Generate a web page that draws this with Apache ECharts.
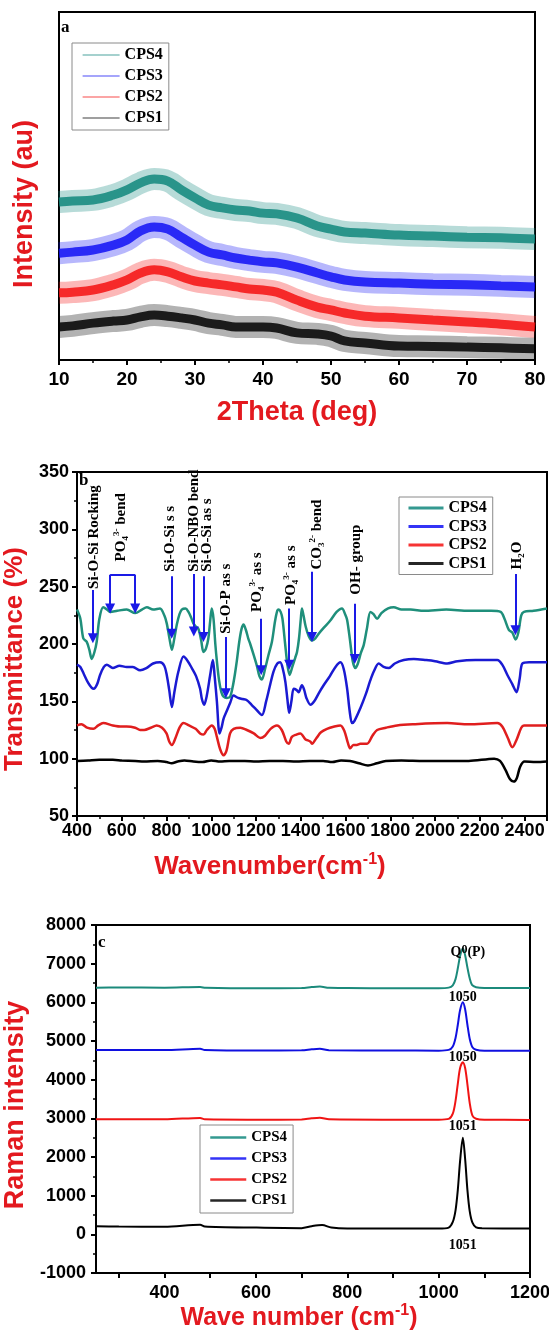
<!DOCTYPE html>
<html>
<head>
<meta charset="utf-8">
<script src="https://cdn.jsdelivr.net/npm/echarts@6/dist/echarts.min.js"></script>
<style>
body { margin: 0; background: #fff; }
#chart { width: 549px; height: 1336px; }
</style>
</head>
<body>
<div id="chart"></div>
<script>
// ---------- panel a : XRD (arbitrary units 0-100) ----------
var xrdTheta = [10,12,15,18,20,22,24,26,28,30,32,34,36,38,40,42,45,48,50,52,55,60,65,70,75,80];
var xrdCPS4 = [45.4,45.7,46.0,47.4,48.9,50.9,52.0,51.4,48.9,46.6,44.5,43.7,43.1,42.8,42.2,42.0,40.8,38.5,37.6,36.8,36.5,35.9,35.6,35.3,35.1,34.8];
var xrdCPS3 = [30.7,31.0,31.6,33.0,34.5,37.1,38.2,37.6,35.3,33.0,31.0,30.2,29.3,28.7,28.2,27.9,26.7,25.0,23.9,23.0,22.4,22.1,21.8,21.6,21.3,21.0];
var xrdCPS2 = [19.3,19.5,20.1,21.6,23.0,25.0,25.9,25.3,23.9,22.7,22.1,21.6,21.0,20.4,20.1,19.5,17.2,15.2,14.4,13.5,12.6,12.1,11.5,10.9,10.3,9.5];
var xrdCPS1 = [9.5,9.8,10.6,11.2,11.5,12.4,12.9,12.6,12.1,11.5,10.6,10.1,9.5,9.5,9.5,9.2,7.8,7.5,6.9,5.5,4.9,4.0,3.9,3.7,3.5,3.2];

// ---------- panel b : FTIR [wavenumber, transmittance] ----------
var ftirCPS4 = [[400,230],[415,222],[428,205],[443,202],[455,195],[466,187],[478,193],[488,202],[500,222],[517,232],[535,230],[548,228],[580,229],[622,230],[660,227],[690,230],[712,232],[740,230],[771,231],[790,225],[801,218],[813,205],[824,195],[835,205],[846,217],[858,226],[868,230],[885,231],[898,228],[910,223],[920,218],[932,215],[943,213],[955,203],[965,193],[976,196],[987,205],[995,220],[1002,231],[1010,222],[1018,200],[1025,185],[1035,168],[1045,158],[1055,154],[1070,153],[1084,154],[1095,162],[1105,173],[1114,185],[1125,202],[1135,213],[1144,217],[1155,212],[1165,205],[1174,200],[1190,190],[1205,180],[1215,172],[1226,169],[1240,178],[1255,190],[1271,202],[1285,220],[1295,229],[1301,230],[1310,228],[1318,222],[1330,200],[1340,182],[1350,173],[1362,180],[1375,188],[1383,193],[1392,205],[1400,222],[1405,231],[1412,225],[1422,215],[1435,207],[1450,203],[1465,205],[1480,209],[1502,214],[1530,220],[1560,228],[1584,231],[1598,226],[1607,221],[1620,203],[1632,185],[1644,179],[1655,183],[1668,192],[1681,199],[1695,213],[1711,228],[1725,226],[1741,222],[1760,227],[1790,231],[1815,232],[1850,230],[1890,230],[1950,229],[2050,230],[2150,229],[2250,229],[2293,228],[2310,222],[2330,212],[2345,210],[2360,204],[2372,210],[2385,225],[2397,228],[2440,229],[2500,231]];
var ftirCPS3 = [[400,182],[415,180],[430,174],[450,166],[465,162],[475,161],[490,165],[503,173],[520,180],[533,182],[560,179],[590,181],[622,180],[650,180],[682,177],[710,179],[740,183],[771,184],[790,181],[801,173],[812,160],[824,145],[835,158],[853,176],[876,189],[895,185],[913,179],[932,172],[950,161],[958,152],[968,147],[980,155],[995,173],[1007,186],[1015,172],[1025,150],[1037,122],[1047,128],[1055,135],[1070,142],[1085,149],[1099,155],[1120,153],[1140,152],[1159,151],[1180,147],[1200,143],[1226,138],[1245,150],[1260,162],[1278,176],[1295,183],[1308,184],[1320,178],[1331,167],[1340,152],[1348,140],[1358,150],[1368,161],[1380,160],[1390,158],[1405,164],[1415,160],[1425,153],[1443,147],[1460,150],[1480,157],[1502,164],[1530,172],[1555,180],[1577,184],[1592,178],[1607,161],[1618,142],[1629,131],[1640,133],[1666,144],[1690,156],[1710,168],[1726,176],[1748,183],[1770,180],[1793,179],[1820,183],[1860,186],[1905,187],[1960,186],[2000,185],[2054,183],[2100,185],[2180,186],[2278,186],[2300,182],[2323,173],[2345,165],[2364,158],[2378,170],[2390,183],[2420,184],[2500,184]];
var ftirCPS2 = [[400,129],[420,130],[445,127],[473,126],[495,129],[517,131],[560,129],[600,128],[622,128],[660,127],[682,125],[700,125],[730,127],[756,129],[780,127],[800,122],[812,115],[824,112],[840,118],[858,127],[876,131],[900,129],[930,126],[950,122],[965,121],[980,125],[1002,129],[1015,126],[1025,119],[1040,108],[1055,103],[1068,107],[1084,122],[1100,126],[1130,127],[1159,125],[1190,122],[1219,118],[1240,120],[1265,126],[1293,129],[1315,125],[1335,115],[1346,113],[1360,119],[1380,121],[1398,122],[1420,117],[1442,115],[1450,113],[1470,118],[1490,123],[1517,126],[1550,128],[1577,129],[1595,124],[1610,114],[1621,109],[1635,112],[1650,112],[1666,113],[1696,113],[1720,120],[1741,125],[1780,127],[1830,129],[1900,130],[2054,131],[2150,130],[2278,131],[2300,128],[2325,118],[2345,110],[2365,117],[2385,127],[2397,129],[2450,129],[2500,129]];
var ftirCPS1 = [[400,98],[450,98.5],[500,99],[560,99],[600,98.5],[660,98],[700,97.5],[760,98],[800,97],[823,96],[850,97.5],[880,98.5],[920,97.5],[960,97],[1000,98.5],[1040,97.5],[1080,98],[1150,98],[1200,97.5],[1260,98],[1320,98],[1380,97.5],[1440,98],[1500,98],[1540,97],[1580,98.5],[1620,98],[1660,96],[1700,94],[1740,96],[1780,98],[1850,98.5],[1950,98],[2050,98],[2150,98],[2264,100],[2290,98],[2315,90],[2335,82],[2351,80],[2365,83],[2380,93],[2400,97.5],[2450,97],[2500,97.5]];

// arrows: [wavenumber, arrow top, arrow tip]
var ftirArrows = [[471,247,205],[823,259,209],[922,261,211],[965,259,206],[1065,206,157],[1223,222,177],[1348,231,182],[1450,263,206],[1641,235,187],[2359,261,212]];
// PO4 bend bracket: [left wn, right wn, top, tip]
var ftirBracket = [548, 660, 260.5, 231];
// band labels: [wavenumber, value where text starts, text]
var ftirNotes = [
  [478, 248, 'Si-O-Si Rocking'],
  [597, 272, 'PO{b|4}{p|3-} bend'],
  [816, 263, 'Si-O-Si s s'],
  [923, 263, 'Si-O-NBO bend'],
  [980, 263, 'Si-O-Si as s'],
  [1067, 209, 'Si-O-P as s'],
  [1205, 228, 'PO{b|4}{p|3-} as s'],
  [1356, 234, 'PO{b|4}{p|3-} as s'],
  [1474, 265, 'CO{b|3}{p|2-} bend'],
  [1646, 243, 'OH- group'],
  [2366, 265, 'H{b|2}O']
];

// ---------- panel c : Raman [wavenumber, intensity] ----------
var ramanCPS4 = [[250,6380],[300,6385],[400,6380],[478,6395],[490,6378],[600,6365],[700,6370],[722,6395],[740,6410],[760,6375],[800,6370],[900,6365],[1000,6365],[1022,6380],[1031,6440],[1037,6600],[1042,6880],[1047,7200],[1053,7400],[1058,7220],[1063,6900],[1068,6620],[1073,6450],[1082,6390],[1100,6370],[1200,6370]];
var ramanCPS3 = [[250,4770],[400,4765],[478,4800],[488,4770],[600,4755],[700,4760],[722,4785],[740,4800],[760,4760],[900,4755],[1000,4750],[1022,4770],[1031,4860],[1037,5080],[1042,5420],[1047,5800],[1053,6000],[1058,5820],[1063,5420],[1068,5060],[1074,4840],[1082,4775],[1100,4750],[1200,4750]];
var ramanCPS2 = [[250,2975],[400,2975],[478,3010],[488,2975],[600,2965],[700,2970],[722,3000],[740,3015],[760,2975],[900,2965],[1000,2965],[1022,2985],[1031,3120],[1037,3450],[1042,3900],[1047,4300],[1053,4450],[1058,4300],[1063,3880],[1068,3400],[1074,3070],[1082,2990],[1100,2965],[1200,2960]];
var ramanCPS1 = [[250,210],[300,200],[400,195],[478,250],[488,205],[600,175],[700,160],[722,210],[745,240],[765,175],[800,150],[900,150],[1000,150],[1022,175],[1031,320],[1037,620],[1042,1150],[1047,1900],[1053,2500],[1058,1950],[1063,1150],[1068,600],[1074,300],[1082,180],[1095,155],[1200,150]];
// peak labels: [wavenumber, value, text]
var ramanNotes = [
  [1064, 7280, 'Q{p|0}(P)'],
  [1053, 6130, '1050'],
  [1053, 4580, '1050'],
  [1053, 2780, '1051'],
  [1053, -280, '1051']
];

var names = ['CPS4', 'CPS3', 'CPS2', 'CPS1'];
var xrdColors = ['#10877d', '#1010f5', '#f51010', '#000000'];
var ftirColors = ['#1f8f7b', '#1a1ad2', '#e01e1e', '#000000'];
var ramanColors = ['#1b8a7b', '#1010e0', '#f01414', '#000000'];

var SANS = '"Liberation Sans", Arial, sans-serif';
var SERIF = '"Liberation Serif", "Times New Roman", serif';
var titleRed = '#e3191f';

function toPairs(xs, ys) {
  return xs.map(function (x, i) { return [x, ys[i]]; });
}

function plain(v) { return String(v); }

function axisCommon(extra) {
  var base = {
    type: 'value',
    axisLine: { show: true, onZero: false, lineStyle: { color: '#000', width: 2 } },
    axisTick: { show: true, length: 5, lineStyle: { color: '#000', width: 2 } },
    minorTick: { show: true, splitNumber: 2, length: 3, lineStyle: { color: '#000', width: 1.5 } },
    splitLine: { show: false },
    minorSplitLine: { show: false },
    axisLabel: { color: '#000', fontFamily: SANS, fontWeight: 'bold', fontSize: 18, formatter: plain },
    nameLocation: 'middle',
    nameTextStyle: { color: titleRed, fontFamily: SANS, fontWeight: 'bold', fontSize: 27 }
  };
  for (var k in extra) {
    if (typeof extra[k] === 'object' && base[k] && !Array.isArray(extra[k])) {
      base[k] = Object.assign({}, base[k], extra[k]);
    } else {
      base[k] = extra[k];
    }
  }
  return base;
}

var supRich = { sup: { color: titleRed, fontFamily: SANS, fontWeight: 'bold', fontSize: 16, verticalAlign: 'top', lineHeight: 30 } };

var series = [];
var xrdSets = [xrdCPS4, xrdCPS3, xrdCPS2, xrdCPS1];
xrdSets.forEach(function (ys, i) {
  var d = toPairs(xrdTheta, ys);
  series.push({
    name: names[i] + ' noise', type: 'line', xAxisIndex: 0, yAxisIndex: 0, data: d,
    smooth: 0.4, symbol: 'none', silent: true,
    lineStyle: { color: xrdColors[i], width: 22, opacity: 0.3 }, itemStyle: { color: xrdColors[i] }
  });
  series.push({
    name: names[i], type: 'line', xAxisIndex: 0, yAxisIndex: 0, data: d,
    smooth: 0.4, symbol: 'none', silent: true,
    lineStyle: { color: xrdColors[i], width: 9, opacity: 0.85 }, itemStyle: { color: xrdColors[i] }
  });
});

var ftirSets = [ftirCPS1, ftirCPS2, ftirCPS3, ftirCPS4];
ftirSets.forEach(function (d, j) {
  var i = 3 - j;
  series.push({
    name: names[i], type: 'line', xAxisIndex: 1, yAxisIndex: 1, data: d,
    smooth: 0.3, symbol: 'none', silent: true,
    lineStyle: { color: ftirColors[i], width: 2.5 }, itemStyle: { color: ftirColors[i] }
  });
});

// blue arrows on top of FTIR curves
var arrowLines = ftirArrows.map(function (a) {
  return [{ coord: [a[0], a[1]] }, { coord: [a[0], a[2]] }];
});
arrowLines.push([{ coord: [ftirBracket[0], ftirBracket[2]] }, { coord: [ftirBracket[0], ftirBracket[3]] }]);
arrowLines.push([{ coord: [ftirBracket[1], ftirBracket[2]] }, { coord: [ftirBracket[1], ftirBracket[3]] }]);
arrowLines.push([{ coord: [ftirBracket[0], ftirBracket[2]], symbol: 'none' }, { coord: [ftirBracket[1], ftirBracket[2]], symbol: 'none' }]);
series.push({
  name: 'arrows', type: 'line', xAxisIndex: 1, yAxisIndex: 1, data: [], z: 5,
  markLine: {
    silent: true, symbol: ['none', 'triangle'], symbolSize: 10,
    label: { show: false },
    lineStyle: { color: '#1a1ae6', width: 2, type: 'solid' },
    emphasis: { disabled: true },
    data: arrowLines
  }
});

var ramanSets = [ramanCPS1, ramanCPS2, ramanCPS3, ramanCPS4];
ramanSets.forEach(function (d, j) {
  var i = 3 - j;
  series.push({
    name: names[i], type: 'line', xAxisIndex: 2, yAxisIndex: 2, data: d,
    smooth: 0.3, symbol: 'none', silent: true,
    lineStyle: { color: ramanColors[i], width: 2 }, itemStyle: { color: ramanColors[i] }
  });
});

function legendAt(left, top, opts) {
  return Object.assign({
    data: names, orient: 'vertical', left: left, top: top,
    selectedMode: false, borderColor: '#8a8a8a', borderWidth: 1,
    itemStyle: { opacity: 0 },
    textStyle: { fontFamily: SERIF, fontWeight: 'bold', color: '#000' }
  }, opts);
}

var gridBase = { show: true, borderColor: '#000', borderWidth: 2, outerBoundsMode: 'none', containLabel: false };

var option = {
  animation: false,
  backgroundColor: '#fff',
  textStyle: { fontFamily: SANS },
  grid: [
    Object.assign({ left: 59, top: 12, width: 476, height: 348 }, gridBase),
    Object.assign({ left: 77, top: 472, width: 470, height: 344 }, gridBase),
    Object.assign({ left: 96, top: 925, width: 434, height: 348 }, gridBase)
  ],
  xAxis: [
    axisCommon({ gridIndex: 0, min: 10, max: 80, interval: 10,
      axisLabel: { fontSize: 19, margin: 10 },
      name: '2Theta (deg)', nameGap: 39 }),
    axisCommon({ gridIndex: 1, min: 400, max: 2500, interval: 200,
      axisLabel: { margin: 6, showMaxLabel: false },
      name: 'Wavenumber(cm{sup|-1})', nameGap: 36,
      nameTextStyle: { fontSize: 26, lineHeight: 30, padding: [0, 84, 0, 0], rich: supRich } }),
    axisCommon({ gridIndex: 2, min: 250, max: 1200,
      axisTick: { customValues: [300,400,500,600,700,800,900,1000,1100,1200] },
      minorTick: { show: false },
      axisLabel: { margin: 11, customValues: [400,600,800,1000,1200] },
      name: 'Wave number (cm{sup|-1})', nameGap: 29,
      nameTextStyle: { fontSize: 25, lineHeight: 30, padding: [0, 28, 0, 0], rich: supRich } })
  ],
  yAxis: [
    axisCommon({ gridIndex: 0, min: 0, max: 100,
      axisTick: { show: false }, minorTick: { show: false }, axisLabel: { show: false },
      name: 'Intensity (au)', nameRotate: 90, nameGap: 21,
      nameTextStyle: { padding: [0, 36, 0, 0] } }),
    axisCommon({ gridIndex: 1, min: 50, max: 350, interval: 50,
      axisLabel: { margin: 8 },
      name: 'Transmittance (%)', nameRotate: 90, nameGap: 39,
      nameTextStyle: { fontSize: 26, padding: [0, 30, 0, 0] } }),
    axisCommon({ gridIndex: 2, min: -1000, max: 8000, interval: 1000,
      axisLabel: { margin: 10 },
      name: 'Raman intensity', nameRotate: 90, nameGap: 56,
      nameTextStyle: { padding: [0, 12, 0, 0] } })
  ],
  legend: [
    legendAt(72, 43, { itemWidth: 37, itemHeight: 12, itemGap: 5, padding: [4, 6, 4, 10],
      lineStyle: { width: 1.2, opacity: 0.75 }, textStyle: { fontFamily: SERIF, fontWeight: 'bold', fontSize: 16, color: '#000' } }),
    legendAt(399, 497, { itemWidth: 35, itemHeight: 12, itemGap: 2.5, padding: [3, 6, 3, 8],
      lineStyle: { width: 3 }, textStyle: { fontFamily: SERIF, fontWeight: 'bold', fontSize: 16, color: '#000' } }),
    legendAt(200, 1125, { itemWidth: 36, itemHeight: 12, itemGap: 6, padding: [5, 6, 5, 9],
      lineStyle: { width: 2.5 }, textStyle: { fontFamily: SERIF, fontWeight: 'bold', fontSize: 15, color: '#000' } })
  ],
  series: series
};

var chart = echarts.init(document.getElementById('chart'));
chart.setOption(option);

// annotation texts placed at data coordinates
var noteRich = {
  b: { font: 'bold 9px "Liberation Serif"', verticalAlign: 'bottom', textVerticalAlign: 'bottom', lineHeight: 18 },
  p: { font: 'bold 9px "Liberation Serif"', verticalAlign: 'top', textVerticalAlign: 'top', lineHeight: 18 }
};
var graphics = [
  { type: 'text', left: 61, top: 19, z: 10, style: { text: 'a', font: 'bold 17px "Liberation Serif"', fill: '#000' } },
  { type: 'text', left: 79, top: 472, z: 10, style: { text: 'b', font: 'bold 17px "Liberation Serif"', fill: '#000' } },
  { type: 'text', left: 98, top: 934, z: 10, style: { text: 'c', font: 'bold 17px "Liberation Serif"', fill: '#000' } }
];
ftirNotes.forEach(function (n) {
  var p = chart.convertToPixel({ gridIndex: 1 }, [n[0], n[1]]);
  graphics.push({
    type: 'text', x: p[0], y: p[1], rotation: Math.PI / 2, z: 10, silent: true,
    style: { text: n[2], font: 'bold 15px "Liberation Serif"', fill: '#000', lineHeight: 18,
      align: 'left', verticalAlign: 'middle', textAlign: 'left', textVerticalAlign: 'middle', rich: noteRich }
  });
});
ramanNotes.forEach(function (n) {
  var p = chart.convertToPixel({ gridIndex: 2 }, [n[0], n[1]]);
  graphics.push({
    type: 'text', x: p[0], y: p[1], z: 10, silent: true,
    style: { text: n[2], font: 'bold 14px "Liberation Serif"', fill: '#000', lineHeight: 18,
      align: 'center', verticalAlign: 'middle', textAlign: 'center', textVerticalAlign: 'middle',
      rich: { p: { font: 'bold 12px "Liberation Serif"', verticalAlign: 'top', textVerticalAlign: 'top', lineHeight: 18 } } }
  });
});
chart.setOption({ graphic: graphics });
</script>
</body>
</html>
